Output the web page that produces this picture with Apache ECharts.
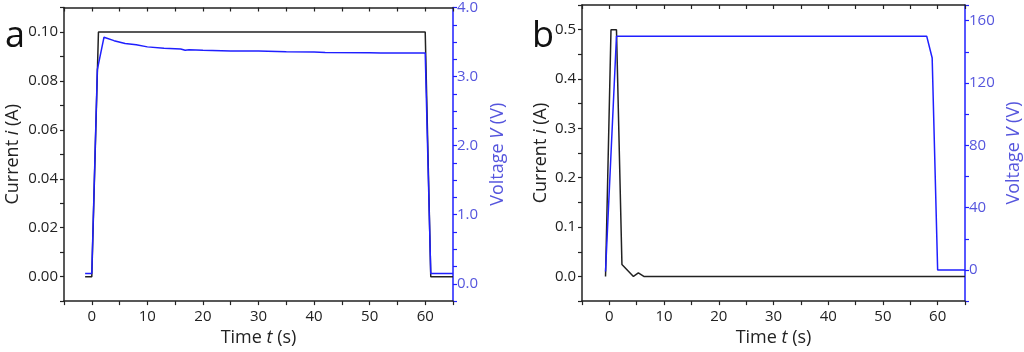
<!DOCTYPE html>
<html>
<head>
<meta charset="utf-8">
<script src="https://cdn.jsdelivr.net/npm/echarts@6/dist/echarts.min.js"></script>
<style>
  html, body { margin: 0; padding: 0; background: #fff; }
  #main { width: 1024px; height: 352px; }
</style>
</head>
<body>
<div id="main"></div>
<script>
// panel a
var timeCurrentA = [-1.2, 0, 1.2, 60, 61, 65];
var currentA = [0, 0, 0.1, 0.1, 0, 0];
var timeVoltageA = [-1.2, 0, 1, 2.2, 4, 6, 8, 10, 13, 16, 16.8, 17.5, 20, 25, 30, 35, 40, 42, 50, 52, 60, 61, 65];
var voltageA = [0.15, 0.15, 3.1, 3.57, 3.52, 3.48, 3.46, 3.43, 3.41, 3.40, 3.38, 3.39, 3.38, 3.37, 3.37, 3.36, 3.355, 3.35, 3.345, 3.34, 3.34, 0.15, 0.15];

// panel b
var timeCurrentB = [-0.7, 0.3, 1.3, 2.3, 4.4, 5.3, 6.3, 65];
var currentB = [0, 0.5, 0.5, 0.024, 0, 0.007, 0, 0];
var timeVoltageB = [-0.7, 1.3, 58, 59, 60, 65];
var voltageB = [-1, 150, 150, 136, 0, 0];

function zip(xs, ys) {
  return xs.map(function (x, i) { return [x, ys[i]]; });
}

var FONT = '"Open Sans", "Noto Sans", sans-serif';
var BLACK = '#222';
var BLUE = '#1f1fff';
var BLUE_TEXT = '#5555dd';

function timeAxis(gridIndex) {
  return {
    type: 'value', gridIndex: gridIndex, min: -5, max: 65, interval: 5,
    name: '{n|Time }{i|t}{n| (s)}', nameLocation: 'middle', nameGap: 25,
    nameTextStyle: {
      rich: {
        n: { fontFamily: FONT, fontSize: 18, color: BLACK },
        i: { fontFamily: FONT, fontSize: 18, color: BLACK, fontStyle: 'italic' }
      }
    },
    axisLine: { onZero: false, lineStyle: { color: BLACK, width: 1.5 } },
    axisTick: { length: 4, lineStyle: { color: BLACK, width: 1.2 } },
    axisLabel: {
      fontFamily: FONT, fontSize: 15, color: BLACK, margin: 8,
      formatter: function (v) { return Math.round(v) % 10 === 0 ? String(v) : ''; }
    },
    splitLine: { show: false }
  };
}

function topAxis(gridIndex) {
  return {
    type: 'value', gridIndex: gridIndex, position: 'top', min: -5, max: 65, interval: 5,
    axisLine: { onZero: false, lineStyle: { color: BLACK, width: 1.5 } },
    axisTick: { inside: true, length: 4, lineStyle: { color: BLACK, width: 1.2 } },
    axisLabel: { show: false },
    splitLine: { show: false }
  };
}

function currentAxis(gridIndex, min, max, interval, fmt, gap) {
  return {
    type: 'value', gridIndex: gridIndex, position: 'left', min: min, max: max, interval: interval,
    name: '{n|Current }{i|i}{n| (A)}', nameLocation: 'middle', nameGap: gap, nameRotate: 90,
    nameTextStyle: {
      rich: {
        n: { fontFamily: FONT, fontSize: 18, color: BLACK },
        i: { fontFamily: FONT, fontSize: 18, color: BLACK, fontStyle: 'italic' }
      }
    },
    axisLine: { onZero: false, lineStyle: { color: BLACK, width: 1.5 } },
    axisTick: { length: 4, lineStyle: { color: BLACK, width: 1.2 } },
    axisLabel: { fontFamily: FONT, fontSize: 15, color: BLACK, margin: 6, formatter: fmt },
    splitLine: { show: false }
  };
}

function voltageAxis(gridIndex, min, max, interval, fmt, gap) {
  return {
    type: 'value', gridIndex: gridIndex, position: 'right', min: min, max: max, interval: interval,
    name: '{n|Voltage }{i|V}{n| (V)}', nameLocation: 'middle', nameGap: gap, nameRotate: 90,
    nameTextStyle: {
      rich: {
        n: { fontFamily: FONT, fontSize: 18, color: BLUE_TEXT },
        i: { fontFamily: FONT, fontSize: 18, color: BLUE_TEXT, fontStyle: 'italic' }
      }
    },
    axisLine: { onZero: false, lineStyle: { color: BLUE, width: 1.5 } },
    axisTick: { length: 4, lineStyle: { color: BLUE, width: 1.2 } },
    axisLabel: { fontFamily: FONT, fontSize: 15, color: BLUE_TEXT, margin: 4, formatter: fmt },
    splitLine: { show: false }
  };
}

var chart = echarts.init(document.getElementById('main'));
chart.setOption({
  animation: false,
  backgroundColor: '#fff',
  title: [
    { text: 'a', left: 0, top: 14, textStyle: { fontFamily: FONT, fontSize: 36, fontWeight: 'normal', color: '#111' } },
    { text: 'b', left: 527, top: 14, textStyle: { fontFamily: FONT, fontSize: 36, fontWeight: 'normal', color: '#111' } }
  ],
  grid: [
    { left: 64, top: 5, width: 389, height: 301 },
    { left: 582, top: 5, width: 386, height: 300 }
  ],
  xAxis: [timeAxis(0), topAxis(0), timeAxis(1), topAxis(1)],
  yAxis: [
    currentAxis(0, -0.01, 0.11, 0.01, function (v) {
      return Math.abs(Math.round(v * 100)) % 2 === 0 ? v.toFixed(2) : '';
    }, 42),
    voltageAxis(0, -0.25, 4.0, 0.25, function (v) {
      return Math.abs(Math.round(v * 100)) % 100 === 0 ? v.toFixed(1) : '';
    }, 36),
    currentAxis(1, -0.05, 0.55, 0.05, function (v) {
      return Math.abs(Math.round(v * 100)) % 10 === 0 ? v.toFixed(1) : '';
    }, 32),
    voltageAxis(1, -20, 170, 20, function (v) {
      return Math.round(v) % 40 === 0 && v <= 160 ? String(v) : '';
    }, 40)
  ],
  series: [
    { type: 'line', xAxisIndex: 0, yAxisIndex: 0, data: zip(timeCurrentA, currentA), symbol: 'none',
      lineStyle: { color: BLACK, width: 1.5 } },
    { type: 'line', xAxisIndex: 0, yAxisIndex: 1, data: zip(timeVoltageA, voltageA), symbol: 'none',
      lineStyle: { color: BLUE, width: 1.5 } },
    { type: 'line', xAxisIndex: 2, yAxisIndex: 2, data: zip(timeCurrentB, currentB), symbol: 'none',
      lineStyle: { color: BLACK, width: 1.5 } },
    { type: 'line', xAxisIndex: 2, yAxisIndex: 3, data: zip(timeVoltageB, voltageB), symbol: 'none',
      lineStyle: { color: BLUE, width: 1.5 } }
  ]
});
</script>
</body>
</html>
